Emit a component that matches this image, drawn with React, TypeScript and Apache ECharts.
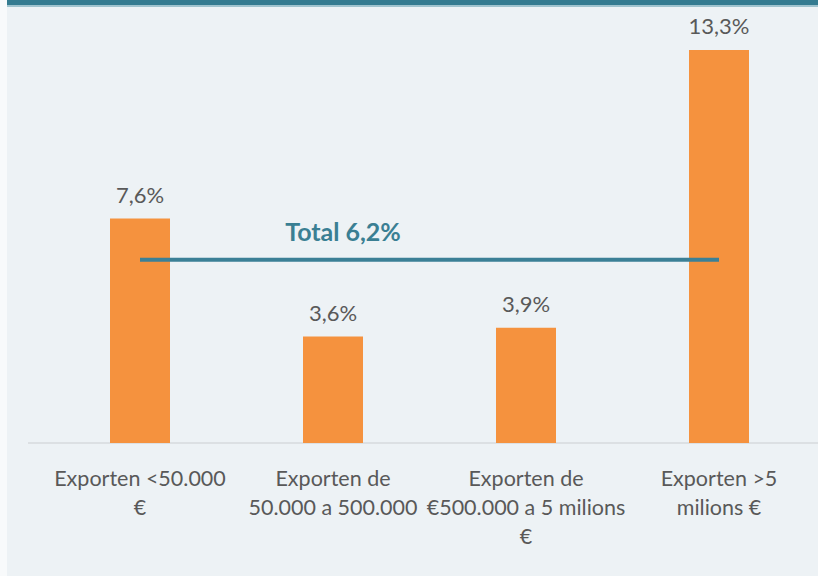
import React, { useEffect, useRef } from "react";
import * as echarts from "echarts";

const categories = [
  "Exporten <50.000\n€",
  "Exporten de\n50.000 a 500.000",
  "Exporten de\n€500.000 a 5 milions\n€",
  "Exporten >5\nmilions €",
];
const values = [7.6, 3.6, 3.9, 13.3];
const totalValue = 6.2;
const totalLabel = "Total 6,2%";

const fmt = (v: number) => v.toFixed(1).replace(".", ",") + "%";

export default function App() {
  const ref = useRef<HTMLDivElement>(null);
  useEffect(() => {
    if (!ref.current) return;
    const chart = echarts.init(ref.current, undefined, { renderer: "svg" });
    const font = "Lato, 'Open Sans', sans-serif";
    chart.setOption({
      animation: false,
      backgroundColor: "#EDF2F5",
      textStyle: { fontFamily: font },
      graphic: [
        { type: "rect", left: 0, top: 0, shape: { width: 7, height: 576 }, style: { fill: "#F8FAFB" }, z: 10 },
        { type: "rect", left: 7, top: 0, shape: { width: 811, height: 5 }, style: { fill: "#347B90" }, z: 10 },
        { type: "rect", left: 7, top: 5, shape: { width: 811, height: 2 }, style: { fill: "#9FC3CE" }, z: 10 },
        { type: "line", shape: { x1: 28, y1: 443, x2: 818, y2: 443 }, style: { stroke: "#D6DADD", lineWidth: 1.5 }, z: 1 },
      ],
      grid: { left: 43.5, right: 2.5, top: 29.3, bottom: 133, containLabel: false },
      xAxis: {
        type: "category",
        data: categories,
        axisLine: { show: false },
        axisTick: { show: false },
        axisLabel: {
          interval: 0,
          color: "#595959",
          fontSize: 21.5,
          lineHeight: 29,
          margin: 20,
          fontFamily: font,
          align: "center",
        },
      },
      yAxis: {
        type: "value",
        min: 0,
        max: 14,
        show: false,
        splitLine: { show: false },
      },
      series: [
        {
          type: "bar",
          data: values,
          barWidth: 60,
          itemStyle: { color: "#F5923E" },
          label: {
            show: true,
            position: "top",
            distance: 13,
            color: "#595959",
            fontSize: 22,
            fontFamily: font,
            formatter: (p: any) => fmt(p.value),
          },
          z: 2,
        },
        {
          type: "line",
          data: values.map(() => totalValue),
          symbol: "none",
          lineStyle: { color: "#3B8096", width: 4 },
          z: 3,
          markPoint: {
            symbol: "rect",
            symbolSize: 0,
            data: [{ coord: [1, totalValue] }],
            label: {
              show: true,
              formatter: totalLabel,
              color: "#3A7F93",
              fontSize: 25,
              fontWeight: "bold",
              fontFamily: font,
              offset: [10, -29],
            },
          },
        },
      ],
    });
    return () => chart.dispose();
  }, []);
  return (
    <div
      ref={ref}
      style={{ position: "fixed", left: 0, top: 0, width: 818, height: 576 }}
    />
  );
}
